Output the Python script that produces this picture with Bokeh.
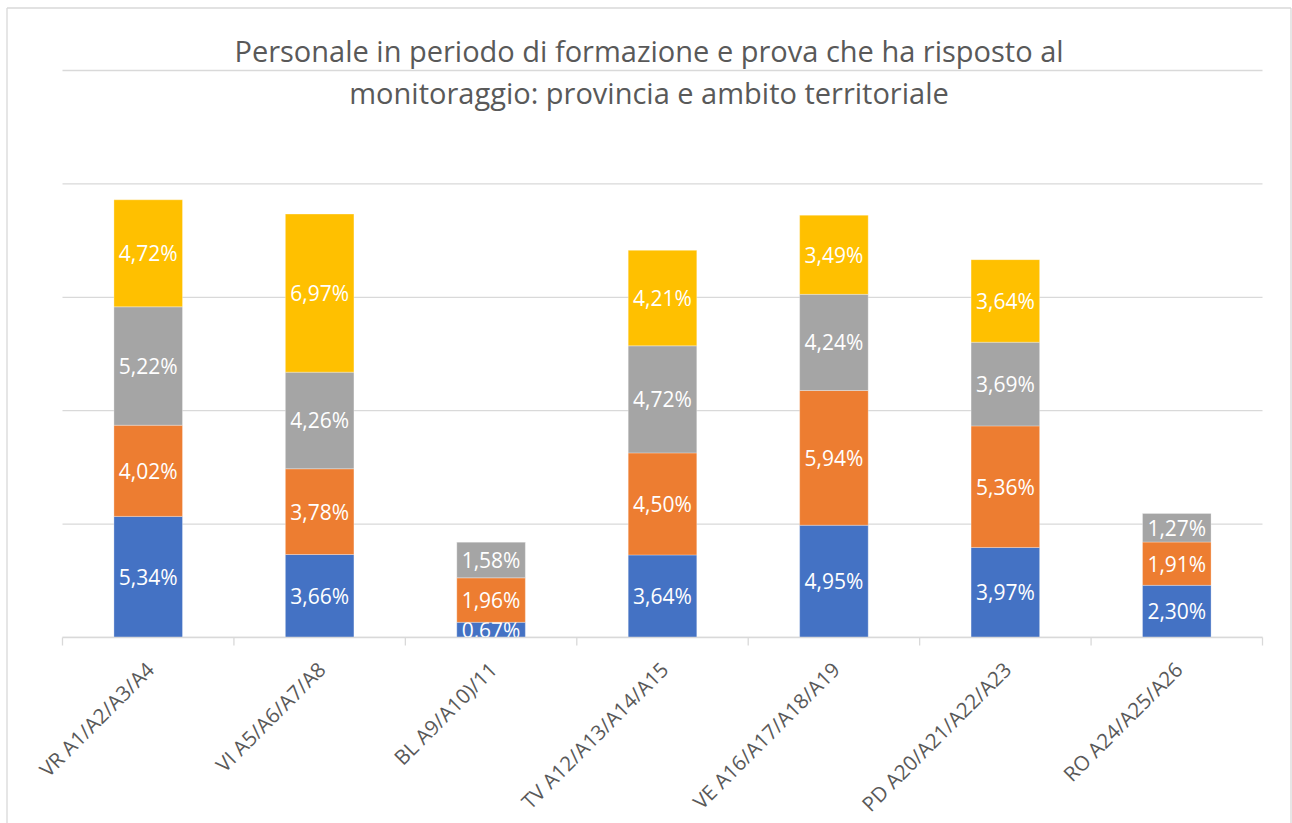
import numpy as np
from bokeh.plotting import figure
from bokeh.models import Range1d
from bokeh.core.properties import value
from bokeh.embed import file_html
from bokeh.resources import INLINE

categories = ["VR A1/A2/A3/A4", "VI A5/A6/A7/A8", "BL A9/A10)/11", "TV A12/A13/A14/A15",
              "VE A16/A17/A18/A19", "PD A20/A21/A22/A23", "RO A24/A25/A26"]
blue = [5.34, 3.66, 0.67, 3.64, 4.95, 3.97, 2.30]
orange = [4.02, 3.78, 1.96, 4.50, 5.94, 5.36, 1.91]
gray = [5.22, 4.26, 1.58, 4.72, 4.24, 3.69, 1.27]
yellow = [4.72, 6.97, 0.0, 4.21, 3.49, 3.64, 0.0]
series = [blue, orange, gray, yellow]
colors = ["#4472C4", "#ED7D31", "#A5A5A5", "#FFC000"]
grid_ticks = [0, 5, 10, 15, 20, 25]
title_lines = ["Personale in periodo di formazione e prova che ha risposto al",
               "monitoraggio: provincia e ambito territoriale"]

W, H = 1292, 823
left_pad, right_pad = 62, 30
base_y = 637
ppy = 113.4 / 5.0
n = len(categories)
ppx = (W - left_pad - right_pad) / n

x0 = -left_pad / ppx
x1 = n + right_pad / ppx
y0 = -(H - base_y) / ppy
y1 = base_y / ppy

def sx(px):
    return x0 + px / ppx

def sy(py):
    return (base_y - py) / ppy

p = figure(width=W, height=H, x_range=Range1d(x0, x1), y_range=Range1d(y0, y1),
           output_backend="svg", toolbar_location=None, min_border=0,
           x_axis_location=None, y_axis_location=None)
p.grid.visible = False
p.outline_line_color = None
p.background_fill_color = "white"
p.border_fill_color = "white"

grid_color = "#D9D9D9"
p.segment(x0=0, x1=n, y0=grid_ticks, y1=grid_ticks, line_color=grid_color, line_width=1.3)

xs = np.arange(n) + 0.5
bottom = np.zeros(n)
for vals, col in zip(series, colors):
    v = np.array(vals)
    top = bottom + v
    p.vbar(x=xs, width=0.4, bottom=bottom, top=top, fill_color=col,
           line_color="white", line_width=0.6, line_alpha=0.5)
    mask = v > 0
    labels = [("%.2f%%" % x).replace(".", ",") for x in v[mask]]
    p.text(x=xs[mask], y=((bottom + top) / 2)[mask], text=labels,
           text_align="center", text_baseline="middle", text_color="white",
           text_font=value("Open Sans"), text_font_size="21px")
    bottom = top

# emulate clipping at plot area bottom
p.quad(left=x0, right=x1, bottom=-0.6, top=0, fill_color="white", line_color=None)
p.segment(x0=0, x1=n, y0=0, y1=0, line_color=grid_color, line_width=1.3)
ticks_x = list(range(n + 1))
p.segment(x0=ticks_x, x1=ticks_x, y0=0, y1=-8 / ppy, line_color=grid_color, line_width=1.3)

p.text(x=xs + 0.01, y=sy(665), text=categories, angle=np.pi / 4, text_align="right",
       text_baseline="middle", text_color="#595959",
       text_font=value("Open Sans"), text_font_size="20.5px")

p.text(x=sx(648.5), y=[sy(50), sy(92)], text=title_lines, text_align="center",
       text_baseline="middle", text_color="#595959",
       text_font=value("Open Sans"), text_font_size="29px")

# chart area border (left, top, right)
bx0, bx1 = sx(6.5), sx(1290.5)
by0, by1 = sy(7.5), sy(H)
p.segment(x0=[bx0, bx0, bx1], x1=[bx0, bx1, bx1], y0=[by1, by0, by0], y1=[by0, by0, by1],
          line_color=grid_color, line_width=1.3)

open("out.html", "w").write(file_html(p, INLINE))
